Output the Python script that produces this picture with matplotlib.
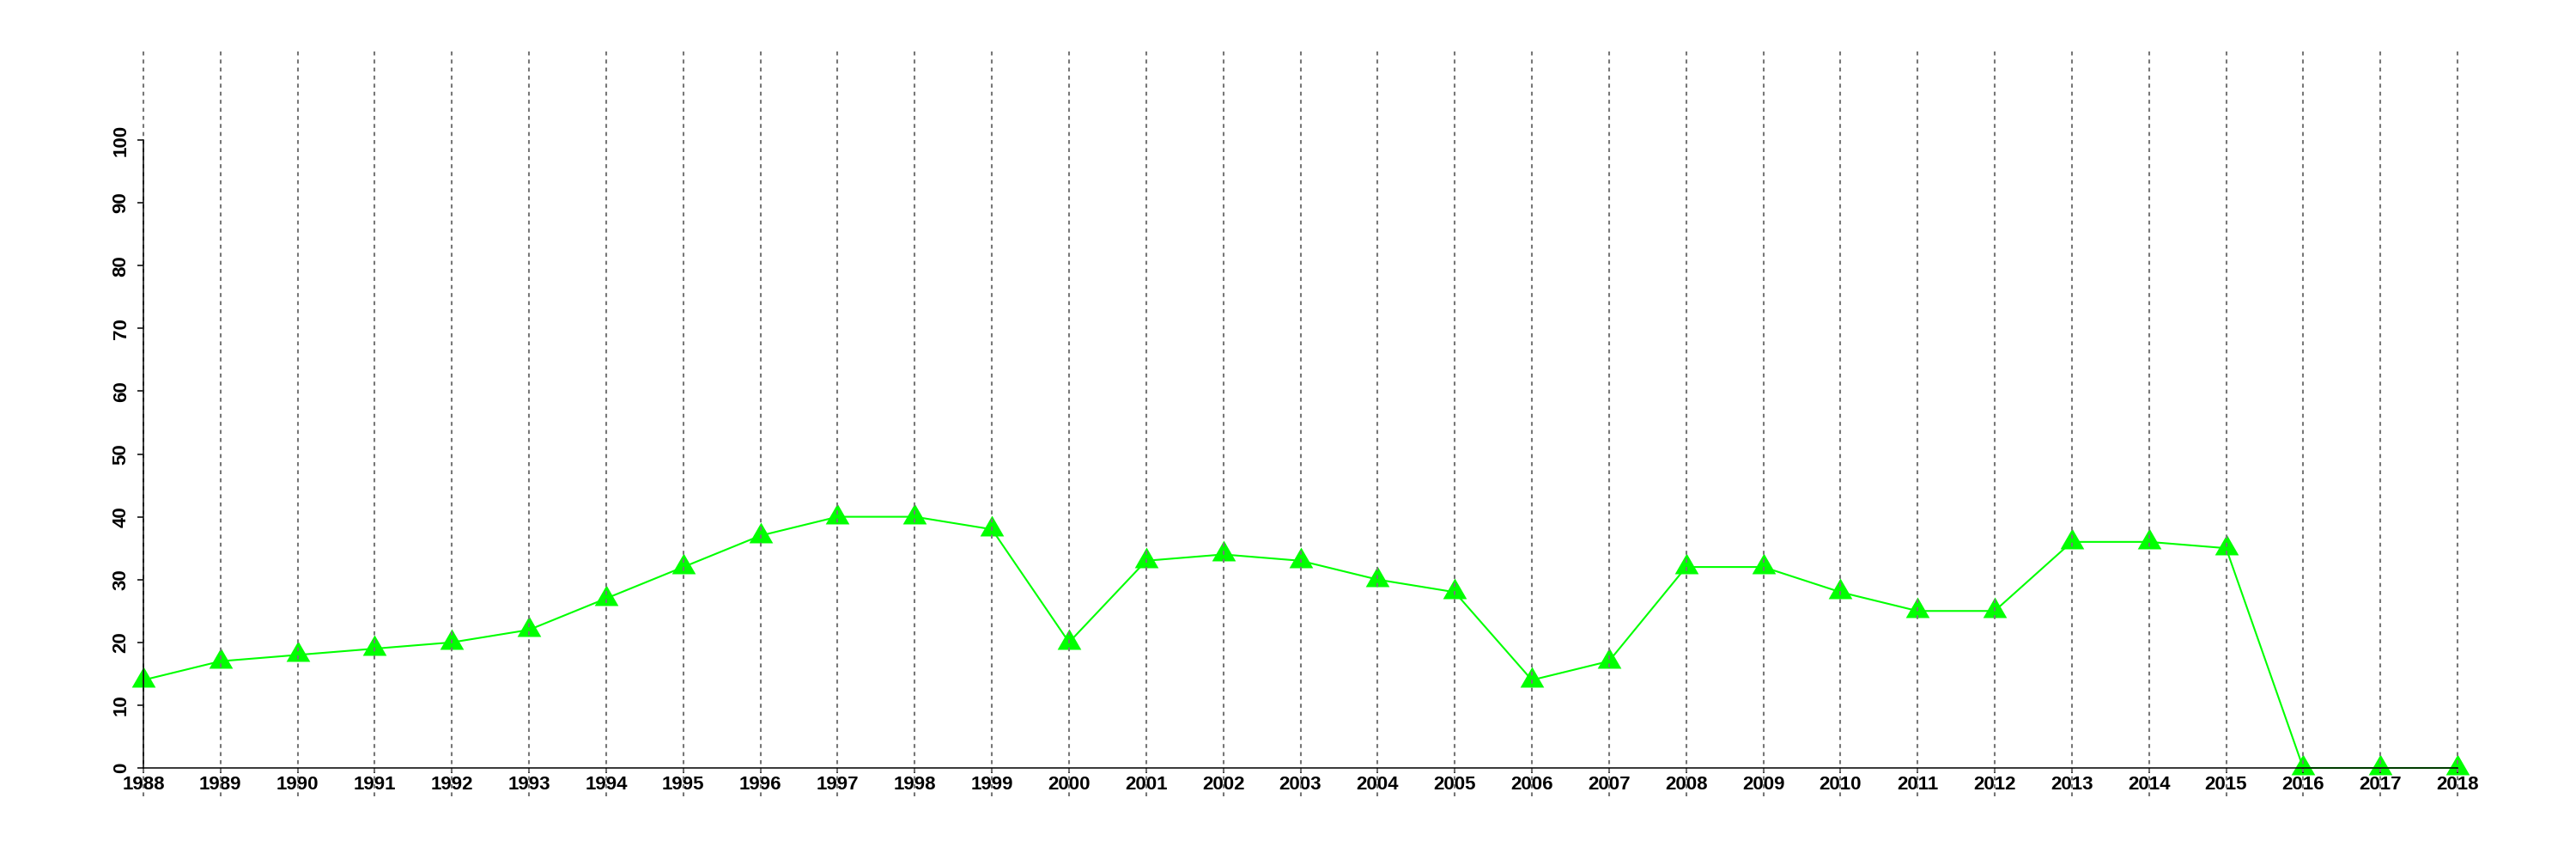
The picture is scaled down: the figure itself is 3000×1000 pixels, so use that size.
import numpy as np
import matplotlib
matplotlib.use('Agg')
import matplotlib.pyplot as plt

years = list(range(1988, 2019))
values = [14, 17, 18, 19, 20, 22, 27, 32, 37, 40, 40, 38, 20, 33, 34, 33,
          30, 28, 14, 17, 32, 32, 28, 25, 25, 36, 36, 35, 0, 0, 0]
y_ticks = list(range(0, 101, 10))

plt.rcParams['font.family'] = ['Liberation Sans', 'DejaVu Sans']

W, H, DPI = 3000, 1000, 100
fig = plt.figure(figsize=(W / DPI, H / DPI), dpi=DPI)

# pixel layout
px_left, px_right = 100, 2950
px_top, px_bottom = 59, 927
x0_px, x1_px = 167, 2862   # 1988 / 2018
y0_px, y100_px = 894, 163  # 0 / 100

ax = fig.add_axes([px_left / W, 1 - px_bottom / H,
                   (px_right - px_left) / W, (px_bottom - px_top) / H])

xs = (x1_px - x0_px) / 30.0
ys = (y0_px - y100_px) / 100.0
ax.set_xlim(1988 - (x0_px - px_left) / xs, 2018 + (px_right - x1_px) / xs)
ax.set_ylim(0 - (px_bottom - y0_px) / ys, 100 + (y100_px - px_top) / ys)

# equilateral triangle marker
tri = [(-0.866, -0.5), (0.866, -0.5), (0.0, 1.0)]
ax.plot(years, values, color='#00ff00', lw=1.5, marker=tri, ms=23,
        markeredgewidth=0, zorder=2, clip_on=False)

for yr in years:
    ax.axvline(yr, color='#777777', lw=1.5, linestyle=(0, (2.2, 2.3)), zorder=3)

for s in ['top', 'right']:
    ax.spines[s].set_visible(False)
ax.spines['bottom'].set_position(('data', 0))
ax.spines['bottom'].set_bounds(1988, 2018)
ax.spines['left'].set_position(('data', 1988))
ax.spines['left'].set_bounds(0, 100)
for s in ['bottom', 'left']:
    ax.spines[s].set_linewidth(1.1)
    ax.spines[s].set_zorder(4)
ax.set_axisbelow(False)

ax.set_xticks(years)
ax.set_xticklabels([str(y) for y in years], fontsize=16, fontweight='bold')
ax.set_yticks(y_ticks)
ax.set_yticklabels([str(v) for v in y_ticks], fontsize=16, fontweight='bold',
                   rotation=90, va='center')
ax.tick_params(axis='x', length=4.5, width=1.1, pad=2)
ax.tick_params(axis='y', length=5, width=1.1, pad=6)

fig.savefig('out.png', dpi=DPI)
